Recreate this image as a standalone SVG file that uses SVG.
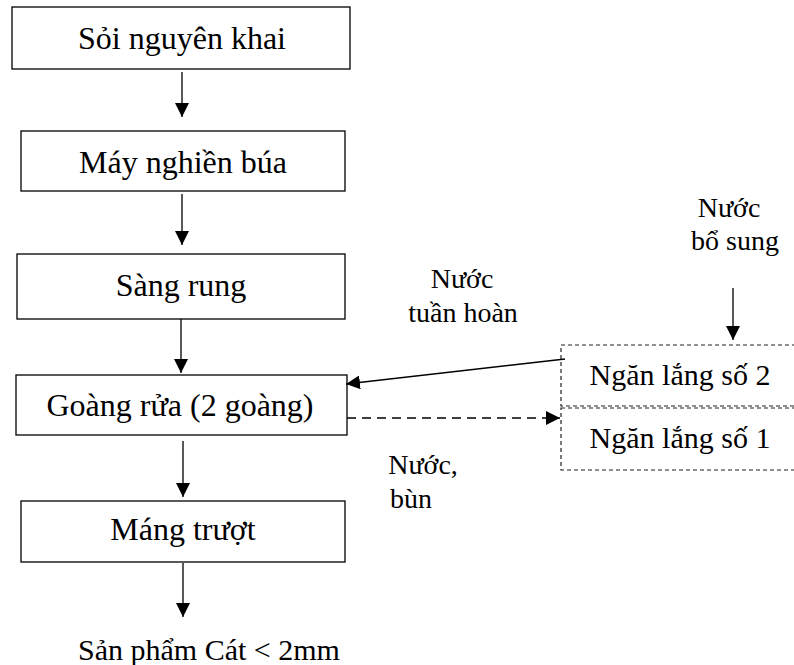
<svg xmlns="http://www.w3.org/2000/svg" width="794" height="665" viewBox="0 0 794 665">
<defs>
<style>
.box{fill:#fff;stroke:#000;stroke-width:1.3}
.dbox{fill:none;stroke:#222;stroke-width:1.2;stroke-dasharray:4 3}
.t{font-family:"Liberation Serif","Times New Roman",serif;fill:#000;text-anchor:middle}
.main{font-size:32px}
.lab{font-size:28px}
.ln{stroke:#000;stroke-width:1.3;fill:none}
.dl{stroke:#000;stroke-width:1.5;fill:none;stroke-dasharray:9 6}
</style>
<marker id="ah" viewBox="0 0 14 14" refX="14" refY="7" markerWidth="14" markerHeight="14" markerUnits="userSpaceOnUse" orient="auto">
<path d="M0,0 L14,7 L0,14 Z" fill="#000"/>
</marker>
</defs>
<rect width="794" height="665" fill="#fff"/>
<g id="n1"><rect class="box" x="12" y="7" width="338" height="62"/><text class="t main" x="182" y="49">Sỏi nguyên khai</text></g>
<g id="n2"><rect class="box" x="21" y="131" width="324" height="60"/><text class="t main" x="183" y="173">Máy nghiền búa</text></g>
<g id="n3"><rect class="box" x="17" y="254" width="328" height="65"/><text class="t main" x="181" y="296">Sàng rung</text></g>
<g id="n4"><rect class="box" x="16" y="375" width="331" height="60"/><text class="t main" x="180" y="416">Goàng rửa (2 goàng)</text></g>
<g id="n5"><rect class="box" x="21" y="501" width="324" height="61"/><text class="t main" x="183" y="540">Máng trượt</text></g>
<g id="n6"><rect class="dbox" x="561" y="345" width="240" height="61"/><text class="t" style="font-size:30px" x="680" y="385">Ngăn lắng số 2</text></g>
<g id="n7"><rect class="dbox" x="561" y="408" width="240" height="62"/><text class="t" style="font-size:30px" x="680" y="448">Ngăn lắng số 1</text></g>
<g id="out"><text class="t" style="font-size:30px" x="209" y="660">Sản phẩm Cát &lt; 2mm</text></g>
<g id="labels">
<text class="t lab" x="729" y="217">Nước</text>
<text class="t lab" x="735" y="250">bổ sung</text>
<text class="t lab" x="462" y="288">Nước</text>
<text class="t lab" x="463" y="322">tuần hoàn</text>
<text class="t lab" x="423" y="474">Nước,</text>
<text class="t lab" x="411" y="508">bùn</text>
</g>
<g id="connectors">
<line class="ln" x1="182" y1="72" x2="182" y2="117" marker-end="url(#ah)"/>
<line class="ln" x1="182" y1="194" x2="182" y2="245" marker-end="url(#ah)"/>
<line class="ln" x1="181" y1="319" x2="181" y2="373" marker-end="url(#ah)"/>
<line class="ln" x1="183" y1="441" x2="183" y2="497" marker-end="url(#ah)"/>
<line class="ln" x1="183" y1="563" x2="183" y2="617" marker-end="url(#ah)"/>
<line class="ln" x1="733" y1="288" x2="733" y2="340" marker-end="url(#ah)"/>
<line class="ln" x1="565" y1="359" x2="346" y2="384" marker-end="url(#ah)"/>
<line class="dl" x1="347" y1="418" x2="560" y2="418" marker-end="url(#ah)"/>
</g>
</svg>
